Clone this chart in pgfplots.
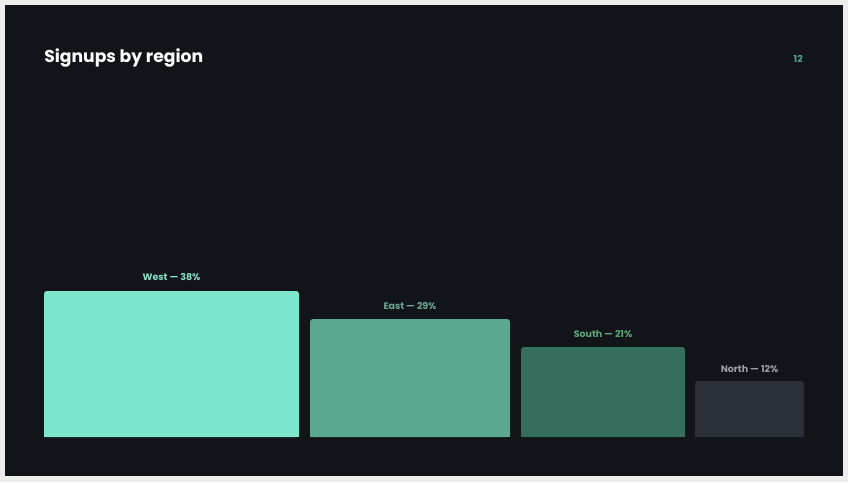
\documentclass[border=0pt]{standalone}
\usepackage{pgfplots}
\pgfplotsset{compat=1.18}
\usepackage{fontspec}
\setmainfont{Poppins}
\definecolor{frame}{HTML}{EDEDEB}
\definecolor{bg}{HTML}{111418}
\definecolor{cwest}{HTML}{7EE6CC}
\definecolor{ceast}{HTML}{5AA892}
\definecolor{csouth}{HTML}{366E5E}
\definecolor{cnorth}{HTML}{2B2F37}
\definecolor{lwest}{HTML}{86DCC4}
\definecolor{least}{HTML}{6AA694}
\definecolor{lsouth}{HTML}{5EA87A}
\definecolor{lnorth}{HTML}{9CA0A8}
\definecolor{cpage}{HTML}{5A9E8A}
\begin{document}
\begin{tikzpicture}
\begin{axis}[
  scale only axis, width=636pt, height=361.5pt,
  xmin=0, xmax=848, ymin=0, ymax=482,
  axis lines=none, ticks=none, clip=false,
]
% frame and panel
\addplot[fill=frame, draw=none] coordinates {(0,0) (848,0) (848,482) (0,482)} --cycle;
\addplot[fill=bg, draw=none] coordinates {(5,6) (843,6) (843,477) (5,477)} --cycle;
% bars (pixel geometry; baseline y=45)
% West 38%
\addplot[fill=cwest, draw=none, rounded corners=2.2pt] coordinates {(44,45) (44,191) (299,191) (299,45)} --cycle;
\addplot[fill=cwest, draw=none] coordinates {(44,45) (44,60) (299,60) (299,45)} --cycle;
% East 29%
\addplot[fill=ceast, draw=none, rounded corners=2.2pt] coordinates {(310,45) (310,163) (510,163) (510,45)} --cycle;
\addplot[fill=ceast, draw=none] coordinates {(310,45) (310,60) (510,60) (510,45)} --cycle;
% South 21%
\addplot[fill=csouth, draw=none, rounded corners=2.2pt] coordinates {(521,45) (521,135) (685,135) (685,45)} --cycle;
\addplot[fill=csouth, draw=none] coordinates {(521,45) (521,60) (685,60) (685,45)} --cycle;
% North 12%
\addplot[fill=cnorth, draw=none, rounded corners=2.2pt] coordinates {(695,45) (695,101) (804,101) (804,45)} --cycle;
\addplot[fill=cnorth, draw=none] coordinates {(695,45) (695,60) (804,60) (804,45)} --cycle;
% labels
\node[anchor=base west, text=white, font=\fontsize{12.9pt}{15pt}\selectfont\bfseries, inner sep=0pt] at (axis cs:44,419) {Signups by region};
\node[anchor=base east, text=cpage, font=\fontsize{7.2pt}{9pt}\selectfont\bfseries, inner sep=0pt] at (axis cs:803,419) {12};
\node[anchor=base, text=lwest, font=\fontsize{7.1pt}{9pt}\selectfont\bfseries, inner sep=0pt] at (axis cs:171.5,201) {West — 38\%};
\node[anchor=base, text=least, font=\fontsize{7.1pt}{9pt}\selectfont\bfseries, inner sep=0pt] at (axis cs:410,173) {East — 29\%};
\node[anchor=base, text=lsouth, font=\fontsize{7.1pt}{9pt}\selectfont\bfseries, inner sep=0pt] at (axis cs:603,145) {South — 21\%};
\node[anchor=base, text=lnorth, font=\fontsize{7.1pt}{9pt}\selectfont\bfseries, inner sep=0pt] at (axis cs:749.5,110) {North — 12\%};
\end{axis}
\end{tikzpicture}
\end{document}
